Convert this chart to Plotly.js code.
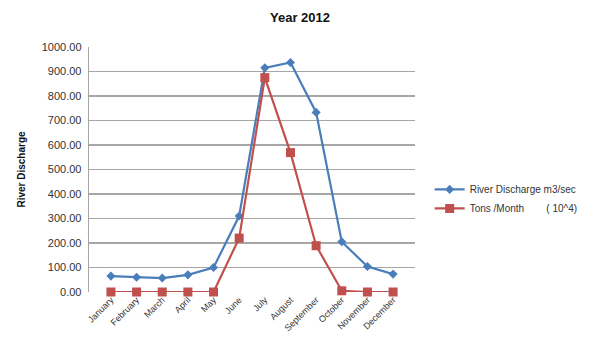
<!DOCTYPE html>
<html>
<head>
<meta charset="utf-8">
<script src="https://cdn.plot.ly/plotly-3.0.1.min.js"></script>
<style>html,body{margin:0;padding:0;background:#fff;}#chart{width:600px;height:352px;}</style>
</head>
<body>
<div id="chart"></div>
<script>
const months = ["January","February","March","April","May","June","July","August","September","October","November","December"];
const discharge = [65, 60, 57, 70, 100, 310, 915, 937, 733, 205, 104, 73];
const tons = [0, 0, 0, 0, 0, 220, 875, 569, 189, 5, 0, 0];
const tickVals = [0,100,200,300,400,500,600,700,800,900,1000];
const tickText = tickVals.map(v => v.toFixed(2));

const traces = [
  {x: months, y: discharge, name: "River Discharge m3/sec", type: "scatter", mode: "lines+markers", cliponaxis: false,
   line: {color: "#4a7ebb", width: 2.2}, marker: {symbol: "diamond", size: 7, color: "#4a7ebb"}},
  {x: months, y: tons, name: "Tons /Month        ( 10^4)", type: "scatter", mode: "lines+markers", cliponaxis: false,
   line: {color: "#c0504d", width: 2.2}, marker: {symbol: "square", size: 9, color: "#c0504d"}}
];
const layout = {
  width: 600, height: 352,
  margin: {l: 89, r: 185, t: 47, b: 60},
  paper_bgcolor: "#fff", plot_bgcolor: "#fff",
  font: {family: "Liberation Sans, Arial, sans-serif", color: "#333", size: 10},
  title: {text: "<b>Year 2012</b>", x: 0.5, xanchor: "center", y: 0.95, yanchor: "middle", font: {size: 13, color: "#111"}},
  showlegend: true,
  legend: {x: 1.045, xanchor: "left", y: 0.38, yanchor: "middle", font: {size: 10, color: "#333"}, tracegroupgap: 4, bgcolor: "rgba(0,0,0,0)"},
  xaxis: {type: "category", tickangle: -45, showgrid: false, showline: false, ticks: "", tickfont: {size: 9}, zeroline: false},
  yaxis: {range: [0, 1000], tickvals: tickVals, ticktext: tickText, showgrid: true, gridcolor: "#a6a6a6", gridwidth: 1.3,
          showline: true, linecolor: "#a6a6a6", linewidth: 1.3, zeroline: false, ticks: "", tickfont: {size: 11},
          ticklabelstandoff: 4,
          title: {text: "<b>River Discharge</b>", font: {size: 10, color: "#111"}, standoff: 14}}
};
Plotly.newPlot("chart", traces, layout, {displayModeBar: false, staticPlot: true});
</script>
</body>
</html>
